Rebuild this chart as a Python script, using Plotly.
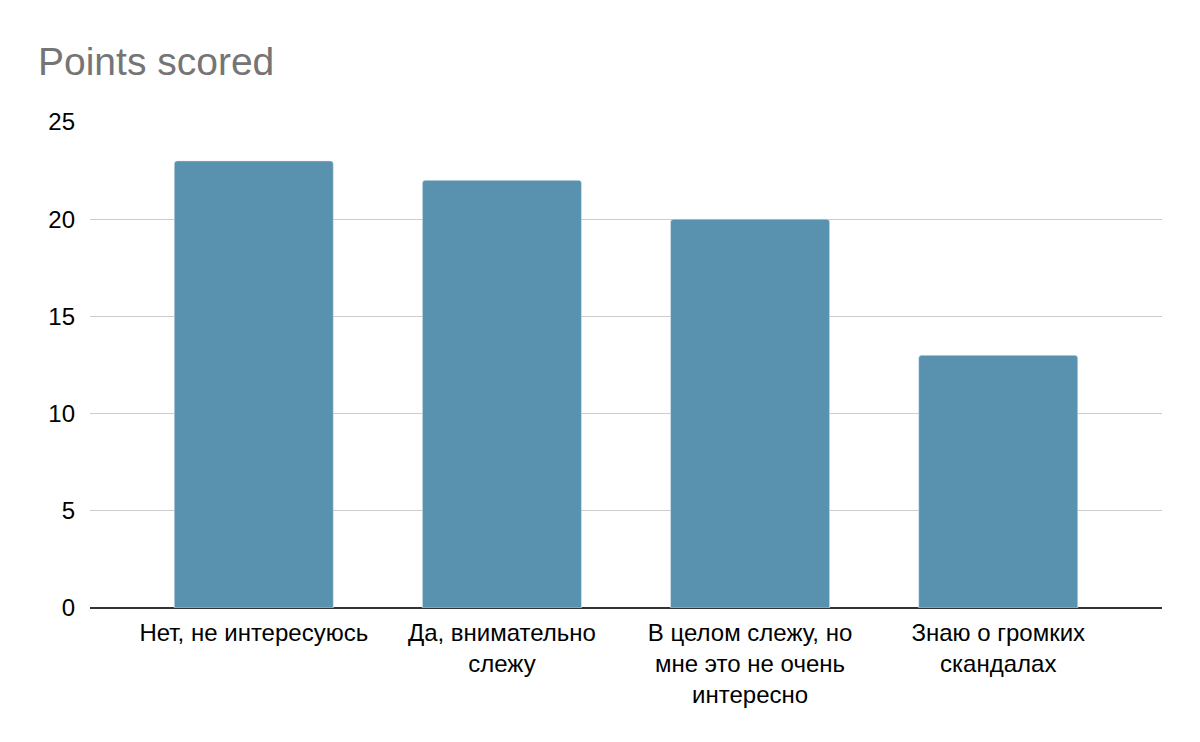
import plotly.graph_objects as go

# answers and how many points each got
categories = [
    'Нет, не интересуюсь',
    'Да, внимательно<br>слежу',
    'В целом слежу, но<br>мне это не очень<br>интересно',
    'Знаю о громких<br>скандалах',
]
points = [23, 22, 20, 13]

fig = go.Figure(go.Bar(
    x=categories, y=points,
    marker=dict(color='#5892ae', cornerradius=3),
    hoverinfo='x+y',
))

# page body adds 8px, so margins are shifted by that
fig.update_layout(
    width=1200, height=742,
    paper_bgcolor='white', plot_bgcolor='white',
    font=dict(family='Liberation Sans, Arial', size=24, color='#000'),
    title=dict(text='Points scored', font=dict(size=39, color='#757575'),
               xref='container', x=0.025, xanchor='left',
               yref='container', y=0.928, yanchor='middle'),
    margin=dict(l=82, r=46, t=114, b=142),
    bargap=0.359,
    showlegend=False,
)
fig.update_xaxes(range=[-0.66, 3.66], showgrid=False, showline=False, ticks='',
                 tickangle=0, ticklabelstandoff=8)
fig.update_yaxes(range=[0, 25], dtick=5, showgrid=True, gridcolor='#cccccc', gridwidth=1.3,
                 zeroline=True, zerolinecolor='#333333', zerolinewidth=2,
                 showline=False, ticklabelstandoff=14)

fig.write_html('out.html')
